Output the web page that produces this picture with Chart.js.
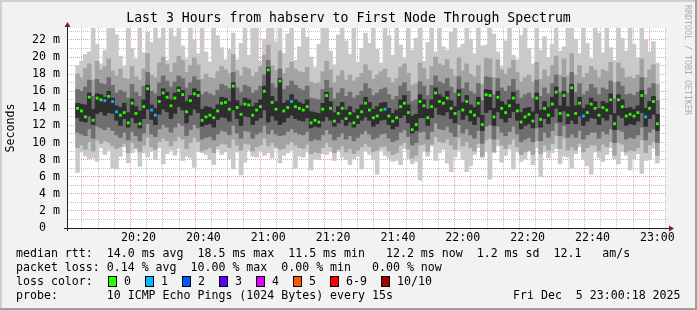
<!DOCTYPE html>
<html>
<head>
<meta charset="utf-8">
<script src="https://cdn.jsdelivr.net/npm/chart.js@4.4.1/dist/chart.umd.min.js"></script>
<style>
  html, body { margin: 0; padding: 0; background: #f2f2f2; }
  canvas { display: block; }
</style>
</head>
<body>
<canvas id="smoke" width="697" height="310"></canvas>
<script>
// one column every 1.2 minutes after 20:00
const firstSlot = 1.2;
const slotMinutes = 1.2;

const median = [
  14.0,13.7,13.0,15.3,12.6,15.2,15.0,14.9,15.4,14.8,13.6,13.2,13.5,12.3,14.6,13.4,12.2,14.2,16.3,13.8,13.2,14.8,15.8,15.3,14.3,
  15.2,16.1,15.6,13.6,14.9,15.7,15.5,12.6,13.0,13.2,12.9,13.7,14.6,14.7,13.9,16.6,14.1,13.3,14.5,14.4,13.2,13.8,14.2,16.0,18.5,
  14.7,13.9,17.2,13.7,14.1,14.8,14.2,14.0,13.8,14.2,12.3,12.6,12.4,13.9,15.5,14.0,12.5,13.4,14.0,12.8,13.4,12.3,13.0,13.6,14.6,
  13.8,12.9,13.1,13.8,13.9,13.1,12.5,12.9,14.2,14.6,13.5,11.5,12.1,14.8,14.3,12.9,14.2,15.8,14.8,14.6,15.2,14.0,13.4,15.6,13.8,
  14.8,13.6,13.2,14.6,12.1,15.6,15.5,13.0,15.3,14.0,13.5,14.3,15.2,13.7,12.4,13.0,13.3,12.5,15.2,12.7,14.0,13.2,14.5,15.9,13.4,
  15.5,13.2,16.4,13.4,14.6,13.1,13.5,14.5,14.0,13.2,14.1,13.8,15.0,12.2,15.0,14.2,13.1,13.3,13.1,13.5,15.5,13.0,14.0,14.8,12.2
];

// columns where 1 of 10 pings was lost
const lossAt = [7, 9, 10, 19, 20, 55, 79, 130, 146];

const outerLo = [
  6.5,8.9,8.4,8.1,8.2,7.8,9.4,8.6,9.1,7.0,6.9,8.4,9.5,7.6,8.8,9.2,7.2,8.8,8.3,9.0,8.0,9.4,7.5,8.7,9.1,
  8.5,9.3,7.9,8.4,8.2,7.1,9.0,8.8,8.6,8.0,7.4,9.2,8.6,8.9,8.1,6.9,8.9,6.2,7.7,9.1,8.4,8.3,9.0,8.5,8.8,
  8.2,9.3,7.6,8.5,8.8,9.1,7.0,8.4,8.3,8.9,6.8,8.1,8.0,8.7,8.6,8.9,7.9,9.0,8.3,8.0,7.4,8.1,8.4,6.9,9.0,
  8.6,8.0,6.3,9.1,8.5,8.2,7.8,7.9,7.4,9.3,8.1,7.5,7.8,5.6,9.0,8.4,9.6,7.9,8.8,9.2,7.6,6.6,8.3,9.1,8.0,
  6.6,7.3,8.6,9.4,8.2,9.0,5.7,8.8,9.6,7.7,8.5,9.2,6.9,8.9,7.8,8.1,9.0,7.4,9.4,6.0,8.9,8.2,8.8,9.3,7.5,
  8.4,8.3,7.0,8.7,9.5,8.0,7.3,6.3,8.9,8.2,7.8,8.6,9.4,8.1,7.5,9.0,8.5,6.8,8.1,8.7,6.4,7.9,8.0,9.3,7.6
];
const outerHi = [
  19.0,19.5,20.3,20.6,23.4,21.5,19.2,20.8,23.4,23.4,22.6,20.1,18.9,23.4,21.0,19.8,23.4,20.5,22.9,21.7,23.4,22.2,23.4,19.6,23.4,
  22.4,23.4,21.3,19.8,23.4,22.0,20.4,23.4,20.6,19.4,23.4,22.5,21.1,19.7,20.9,22.8,19.7,21.6,23.4,20.2,23.4,23.4,19.5,22.1,23.4,
  23.4,21.8,23.4,20.4,22.7,23.4,19.6,21.2,23.4,22.3,20.0,18.8,21.5,23.4,23.4,20.7,19.1,22.6,23.4,21.9,20.3,23.4,19.4,21.0,22.8,
  21.6,23.4,20.9,19.3,23.4,22.5,20.2,23.4,21.4,19.9,23.4,20.8,22.2,23.4,19.5,21.7,23.4,20.6,23.4,21.2,20.8,22.9,23.4,21.1,21.5,
  23.4,22.0,20.4,23.4,21.3,21.4,23.4,22.7,20.6,18.9,21.9,23.4,20.2,19.7,22.5,23.4,21.0,19.2,23.4,20.8,22.4,19.9,21.5,23.4,20.7,
  21.2,23.4,23.4,22.1,20.4,23.4,21.6,19.8,23.4,22.8,20.5,23.4,21.1,19.6,23.4,22.2,20.7,23.4,21.5,19.9,23.4,22.0,20.6,21.8,19.3
];

const wideLo = [
  9.4,9.7,9.2,10.1,9.0,10.3,9.9,10.2,10.0,9.6,9.3,9.5,9.9,8.8,10.0,9.4,8.9,9.7,10.6,9.5,9.2,10.1,10.5,10.2,9.6,
  10.2,10.7,10.4,9.3,10.0,10.6,10.1,9.0,9.2,9.4,8.8,9.6,9.9,9.8,9.4,10.4,9.7,9.1,9.9,9.8,9.0,9.5,9.7,10.5,9.6,
  10.0,9.5,9.2,9.3,9.8,10.1,9.7,9.4,9.3,9.8,8.7,8.9,8.8,9.4,10.0,9.5,8.8,9.2,9.6,8.9,9.3,8.7,9.1,9.5,9.9,
  9.5,8.9,9.1,9.5,9.6,9.0,8.6,8.8,9.7,10.0,9.2,8.2,8.5,9.7,9.8,8.9,9.8,10.7,10.1,10.0,10.4,9.7,9.2,10.6,9.6,
  10.1,9.4,9.0,9.9,8.4,10.3,10.5,8.9,10.4,9.7,9.3,9.8,10.4,9.5,8.6,8.9,9.1,8.6,10.2,8.7,9.7,9.1,9.9,10.8,9.3,
  10.5,9.1,9.5,9.1,9.9,8.9,9.4,9.7,9.7,9.0,9.8,9.5,10.1,8.5,10.0,9.8,8.9,9.1,9.0,9.4,10.3,8.8,9.7,10.1,8.5
];
const wideHi = [
  18.0,17.6,18.7,19.2,17.3,19.5,18.5,18.9,19.8,18.4,17.8,18.6,17.5,17.4,18.9,17.7,17.3,18.6,20.4,17.9,17.6,19.3,20.0,19.1,18.2,
  19.3,20.1,19.6,18.2,19.0,19.9,19.1,17.4,18.0,17.6,17.5,18.3,18.9,18.5,18.1,20.3,18.4,17.8,18.8,18.6,17.7,18.2,18.9,20.2,21.4,
  19.0,18.4,20.7,18.1,18.7,19.4,18.6,18.3,18.2,18.8,17.1,16.9,17.0,18.3,19.5,18.5,17.0,17.8,18.4,17.3,17.9,17.2,17.6,18.1,19.1,
  18.4,17.4,17.9,18.3,18.6,17.6,17.0,17.5,18.8,19.2,18.1,16.7,16.9,19.3,18.7,17.4,18.9,20.0,19.2,19.0,19.7,18.6,17.8,19.9,18.4,
  19.2,18.0,17.7,19.0,16.8,19.9,19.8,17.6,19.7,18.5,18.0,18.7,19.6,18.2,17.1,17.6,17.9,17.1,19.4,17.4,18.5,17.7,19.0,20.1,17.9,
  19.8,17.8,20.4,17.9,19.0,17.6,18.1,18.9,18.5,17.6,18.5,18.3,19.4,17.0,19.3,18.7,17.6,17.7,17.5,17.9,19.8,17.6,18.5,19.1,16.8
];

const innerLo = [
  11.2,11.0,10.8,11.6,10.5,11.9,11.7,11.5,11.8,11.4,10.9,10.6,11.2,10.3,11.3,10.8,10.2,11.1,12.2,11.0,10.7,11.6,12.1,11.8,11.2,
  11.8,12.3,12.0,10.8,11.5,12.1,11.7,10.4,10.6,10.7,10.3,11.0,11.4,11.3,10.9,12.0,11.1,10.5,11.4,11.3,10.5,11.0,11.2,12.0,11.0,
  11.5,11.0,10.8,10.9,11.3,11.6,11.2,11.0,10.9,11.3,10.2,10.4,10.3,10.9,11.5,11.0,10.3,10.7,11.1,10.4,10.8,10.2,10.6,11.0,11.4,
  11.0,10.4,10.6,11.0,11.1,10.5,10.1,10.3,11.2,11.5,10.7,9.7,10.0,11.2,11.3,10.4,11.3,12.3,11.6,11.5,11.9,11.2,10.7,12.1,11.1,
  11.6,10.9,10.5,11.4,9.9,11.9,12.1,10.4,11.9,11.2,10.8,11.3,11.9,11.0,10.1,10.4,10.6,10.1,11.7,10.2,11.2,10.6,11.4,12.3,10.8,
  12.0,10.6,11.0,10.6,11.4,10.4,10.9,11.2,11.2,10.5,11.3,11.0,11.6,10.0,11.5,11.3,10.4,10.6,10.5,10.9,11.8,10.3,11.2,11.6,10.0
];
const innerHi = [
  16.2,16.0,16.5,17.3,15.4,17.4,16.9,16.8,17.6,16.7,15.8,16.1,15.9,15.2,16.8,15.9,15.4,16.6,18.2,16.0,15.7,17.0,17.8,17.2,16.5,
  17.1,17.8,17.5,16.4,17.0,17.7,17.3,15.6,15.9,15.7,15.5,16.1,16.8,16.6,16.3,18.2,16.4,15.9,16.7,16.5,15.8,16.1,16.6,17.9,19.6,
  16.9,16.4,18.6,16.2,16.6,17.2,16.7,16.3,16.1,16.6,15.2,15.1,15.0,16.2,17.3,16.4,15.1,15.8,16.3,15.4,15.9,15.2,15.5,16.0,16.9,
  16.3,15.5,15.8,16.2,16.4,15.6,15.0,15.4,16.6,17.0,16.0,14.8,15.0,17.1,16.6,15.5,16.7,17.8,17.1,16.9,17.5,16.5,15.8,17.7,16.3,
  17.0,16.0,15.7,16.9,14.9,17.7,17.6,15.6,17.5,16.4,16.0,16.6,17.4,16.1,15.2,15.6,15.8,15.2,17.3,15.4,16.4,15.7,16.9,17.9,15.9,
  17.6,15.8,18.2,15.9,16.9,15.6,16.0,16.8,16.4,15.6,16.4,16.2,17.2,15.1,17.1,16.6,15.6,15.7,15.5,15.9,17.6,15.6,16.4,16.9,14.9
];

const coreLo = [
  12.9,12.5,12.4,13.1,12.1,13.4,13.6,13.2,13.5,13.4,12.6,12.0,12.8,11.8,12.9,12.3,11.7,12.8,13.9,12.7,12.1,13.3,13.9,13.6,12.8,
  13.4,14.2,13.8,12.3,13.2,13.9,13.5,11.9,12.1,12.2,11.8,12.7,13.0,12.9,12.5,13.8,12.8,12.0,13.1,13.0,12.1,12.6,12.9,13.8,12.4,
  13.1,12.6,12.1,12.4,12.9,13.2,12.8,12.6,12.5,12.9,11.7,11.9,11.8,12.5,13.0,12.6,11.9,12.3,12.7,12.0,12.4,11.8,12.2,12.6,13.0,
  12.6,11.9,12.2,12.6,12.7,12.1,11.6,11.9,12.9,13.2,12.3,11.1,11.4,12.9,12.9,12.0,12.9,14.1,13.3,13.2,13.6,12.8,12.3,13.8,12.7,
  13.2,12.5,12.1,13.0,11.4,13.5,13.8,12.0,13.6,12.8,12.4,12.9,13.6,12.6,11.6,12.0,12.2,11.7,13.4,11.8,12.8,12.2,13.0,14.0,12.4,
  13.7,12.2,12.6,12.2,13.1,12.0,12.5,12.9,12.8,12.1,12.9,12.6,13.3,11.5,13.2,12.9,12.0,12.2,12.1,12.5,13.5,11.9,12.8,13.3,11.4
];
const coreHi = [
  14.6,14.5,14.4,15.8,13.9,15.7,15.6,15.3,16.0,15.2,14.3,14.1,14.6,13.5,15.1,14.2,13.7,15.0,16.7,14.4,14.0,15.4,16.3,15.9,15.0,
  15.8,16.5,16.1,14.8,15.5,16.3,16.0,13.9,14.2,14.1,13.9,14.4,15.3,15.2,14.8,17.0,14.9,14.3,15.2,15.0,14.2,14.6,15.0,16.6,18.8,
  15.4,14.8,17.5,14.6,14.9,15.6,15.0,14.7,14.5,15.0,13.6,13.5,13.4,14.6,15.9,14.8,13.5,14.2,14.7,13.8,14.2,13.5,13.9,14.4,15.3,
  14.7,13.9,14.2,14.6,14.7,14.0,13.4,13.8,15.0,15.5,14.4,13.1,13.3,15.6,15.0,13.9,15.0,16.4,15.6,15.3,16.0,14.9,14.2,16.2,14.7,
  15.5,14.4,14.1,15.3,13.2,16.2,16.1,14.0,16.0,14.8,14.4,15.0,15.9,14.5,13.5,14.0,14.1,13.6,15.8,13.8,14.8,14.1,15.3,16.5,14.3,
  16.0,14.2,16.8,14.3,15.3,14.0,14.4,15.2,14.8,14.0,14.8,14.6,15.7,13.4,15.6,15.0,14.0,14.1,13.9,14.3,16.1,14.0,14.8,15.4,13.3
];

const majorMinutes = [20, 40, 60, 80, 100, 120, 140, 160, 180];
const timeLabels = ['20:20', '20:40', '21:00', '21:20', '21:40', '22:00', '22:20', '22:40', '23:00'];
const yLabels = {0: '0  ', 2: '2 m', 4: '4 m', 6: '6 m', 8: '8 m', 10: '10 m', 12: '12 m',
                 14: '14 m', 16: '16 m', 18: '18 m', 20: '20 m', 22: '22 m'};

const lossLegend = [
  ['0', '#26ff00'], ['1', '#00b8ff'], ['2', '#0059ff'], ['3', '#5e00ff'],
  ['4', '#dd00ff'], ['5', '#ff5500'], ['6-9', '#ff0000'], ['10/10', '#a10000']
];
const statRows = [
  'median rtt:  14.0 ms avg  18.5 ms max  11.5 ms min   12.2 ms now  1.2 ms sd  12.1   am/s',
  'packet loss: 0.14 % avg  10.00 % max  0.00 % min   0.00 % now'
];
const probeText = 'probe:       10 ICMP Echo Pings (1024 Bytes) every 15s';
const stampText = 'Fri Dec  5 23:00:18 2025';
const titleText = 'Last 3 Hours from habserv to First Node Through Spectrum';

const MONO = '"DejaVu Sans Mono", monospace';
const GRID = 'rgba(143,143,143,0.55)';
const MGRID = 'rgba(222,79,79,0.55)';

const slots = median.map((_, i) => firstSlot + i * slotMinutes);
const band = (lo, hi) => slots.map((x, i) => ({x: x, y: [lo[i], hi[i]]}));

function smoke(lo, hi, color, order) {
  return {
    type: 'bar', data: band(lo, hi), backgroundColor: color, borderWidth: 0,
    grouped: false, order: order, barPercentage: 1, categoryPercentage: 1
  };
}

const xTicks = [];
for (let m = 5; m <= 180; m += 5) xTicks.push(m);
const yTicks = [];
for (let v = 0; v <= 23; v++) yTicks.push(v);

const frame = {
  id: 'frame',
  beforeDraw(chart) {
    const c = chart.ctx, a = chart.chartArea;
    c.save();
    c.fillStyle = '#f2f2f2';
    c.fillRect(0, 0, 697, 310);
    c.fillStyle = '#cfcfcf';
    c.fillRect(0, 0, 697, 2);
    c.fillRect(0, 0, 2, 310);
    c.fillStyle = '#9e9e9e';
    c.fillRect(0, 308, 697, 2);
    c.fillRect(695, 0, 2, 310);
    c.fillStyle = '#ffffff';
    c.fillRect(a.left, a.top, a.right - a.left, a.bottom - a.top);
    c.restore();
  },
  afterDraw(chart) {
    const c = chart.ctx, a = chart.chartArea;
    c.save();
    // axes with arrows
    c.strokeStyle = '#1f1f1f';
    c.lineWidth = 1;
    c.beginPath();
    c.moveTo(a.left - 3, a.bottom + 0.5);
    c.lineTo(a.right + 4, a.bottom + 0.5);
    c.moveTo(a.left + 0.5, a.bottom + 3);
    c.lineTo(a.left + 0.5, a.top - 2);
    c.stroke();
    c.fillStyle = '#801f1f';
    c.beginPath();
    c.moveTo(a.right + 3, a.bottom - 2.5);
    c.lineTo(a.right + 8, a.bottom + 0.5);
    c.lineTo(a.right + 3, a.bottom + 3.5);
    c.fill();
    c.beginPath();
    c.moveTo(a.left - 2.5, a.top - 1);
    c.lineTo(a.left + 0.5, a.top - 6);
    c.lineTo(a.left + 3.5, a.top - 1);
    c.fill();

    c.fillStyle = '#000';
    c.textBaseline = 'middle';
    c.textAlign = 'center';
    c.font = '13.2px ' + MONO;
    c.fillText(titleText, 348.5, 19);

    c.font = '11.6px ' + MONO;
    c.save();
    c.translate(11, (a.top + a.bottom) / 2);
    c.rotate(-Math.PI / 2);
    c.fillText('Seconds', 0, 0);
    c.restore();

    c.save();
    c.fillStyle = '#acacac';
    c.font = '8.3px ' + MONO;
    c.translate(687, 60);
    c.rotate(Math.PI / 2);
    c.fillText('RRDTOOL / TOBI OETIKER', 0, 0);
    c.restore();

    c.textAlign = 'left';
    c.fillText(statRows[0], 16, 254);
    c.fillText(statRows[1], 16, 268);
    c.fillText('loss color:', 16, 282);
    let x = 108;
    lossLegend.forEach(([label, color]) => {
      c.fillStyle = color;
      c.fillRect(x, 276, 9, 11);
      c.strokeStyle = '#000';
      c.strokeRect(x + 0.5, 276.5, 8, 10);
      c.fillStyle = '#000';
      c.fillText(label, x + 16, 282);
      x += 16 + label.length * 7 + 14;
    });
    c.fillText(probeText, 16, 296);
    c.fillText(stampText, 513, 296);
    c.restore();
  }
};

new Chart(document.getElementById('smoke'), {
  type: 'bar',
  data: {
    datasets: [
      smoke(outerLo, outerHi, '#c9c9c9', 4),
      smoke(wideLo, wideHi, '#a3a3a3', 3),
      smoke(innerLo, innerHi, '#6e6e6e', 2),
      smoke(coreLo, coreHi, '#2e2e2e', 1),
      {
        type: 'line', order: 0, showLine: false,
        data: slots.map((x, i) => ({x: x, y: median[i]})),
        pointStyle: 'rect', pointRadius: 2, pointBorderWidth: 0,
        pointBackgroundColor: median.map((_, i) => lossAt.includes(i) ? lossLegend[1][1] : lossLegend[0][1])
      }
    ]
  },
  options: {
    responsive: false,
    animation: false,
    events: [],
    layout: { padding: { left: 0, top: 28, right: 31, bottom: 0 } },
    plugins: { legend: { display: false }, tooltip: { enabled: false } },
    scales: {
      x: {
        type: 'linear', min: 0.5, max: 180.1, z: 1,
        afterBuildTicks: (s) => { s.ticks = xTicks.map((v) => ({value: v})); },
        afterFit: (s) => { s.height = 82; },
        ticks: {
          autoSkip: false, maxRotation: 0, padding: 1, color: '#000',
          font: { family: MONO, size: 11.6 },
          callback: (v) => {
            const k = majorMinutes.indexOf(v);
            return k >= 0 ? timeLabels[k] : '';
          }
        },
        grid: {
          drawTicks: true, tickLength: 2, lineWidth: 1,
          color: (c) => (c.tick && majorMinutes.includes(c.tick.value)) ? MGRID : GRID
        },
        border: { display: false, dash: [1, 1] }
      },
      y: {
        type: 'linear', min: 0, max: 23.4, z: 1,
        afterBuildTicks: (s) => { s.ticks = yTicks.map((v) => ({value: v})); },
        afterFit: (s) => { s.width = 67; },
        ticks: {
          autoSkip: false, padding: 7, color: '#000',
          font: { family: MONO, size: 11.6 },
          callback: (v) => yLabels[v] || ''
        },
        grid: {
          drawTicks: false, lineWidth: 1,
          color: (c) => {
            if (!c.tick || c.tick.value === 0) return 'rgba(0,0,0,0)';
            return c.tick.value % 2 ? GRID : MGRID;
          }
        },
        border: { display: false, dash: [1, 1] }
      }
    }
  },
  plugins: [frame]
});
</script>
</body>
</html>
